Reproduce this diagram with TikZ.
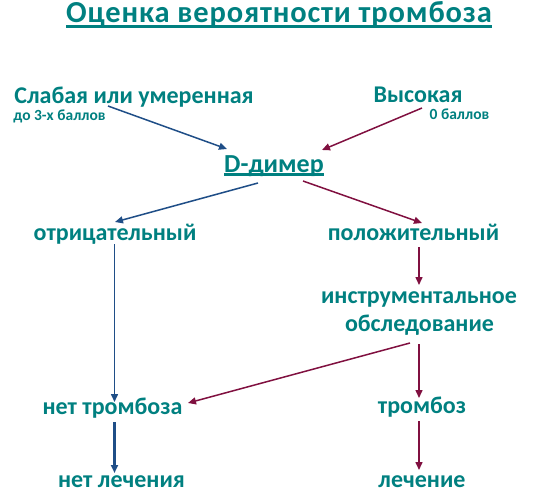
\documentclass[tikz,border=0pt]{standalone}
\usepackage{fontspec}
\setmainfont{Carlito}
\usetikzlibrary{arrows.meta,calc}
\definecolor{txt}{RGB}{0,128,128}
\definecolor{bl}{RGB}{31,78,135}
\definecolor{mr}{RGB}{128,16,64}
\tikzset{
  lbl/.style={text=txt, font=\bfseries\fontsize{24}{27}\selectfont, inner sep=0pt, anchor=base},
  sm/.style={text=txt, font=\bfseries\fontsize{15.5}{18}\selectfont, inner sep=0pt, anchor=base},
  ttl/.style={text=txt, font=\bfseries\fontsize{30.5}{33}\selectfont\addfontfeature{LetterSpace=2.8}, inner sep=0pt, anchor=base},
  dd/.style={text=txt, font=\bfseries\fontsize{26}{29}\selectfont, inner sep=0pt, anchor=base},
  ba/.style={draw=bl, line width=1.5pt, -{Triangle[length=8pt,width=7pt]}},
  ma/.style={draw=mr, line width=1.5pt, -{Triangle[length=8pt,width=7pt]}},
  ul/.style={draw=txt, line width=2.2pt}
}
\begin{document}
\begin{tikzpicture}[x=1pt,y=-1pt]
\useasboundingbox (0,0) rectangle (533,498);
\node[ttl] (title) at (279,22) {Оценка вероятности тромбоза};
\draw[ul] ([yshift=-4.5pt]title.base west) -- ([yshift=-4.5pt]title.base east);
\node[lbl] (slab) at (134,103) {Слабая или умеренная};
\node[sm] (slabs) at (59.5,120.5) {до 3-х баллов};
\node[lbl] (vys) at (418,102) {Высокая};
\node[sm] (vyss) at (459.5,119.5) {0 баллов};
\node[dd] (dd) at (274,172) {D-димер};
\draw[ul] ([yshift=-2.5pt]dd.base west) -- ([yshift=-2.5pt]dd.base east);
\node[lbl] (neg) at (115,240) {отрицательный};
\node[lbl] (pos) at (413.5,240) {положительный};
\node[lbl] (instr) at (419,303) {инструментальное};
\node[lbl] (obsl) at (419.5,331) {обследование};
\node[lbl] (nett) at (112.5,414) {нет тромбоза};
\node[lbl] (tromb) at (422,413) {тромбоз};
\node[lbl] (netl) at (121.5,487) {нет лечения};
\node[lbl] (lech) at (422,487) {лечение};
\draw[ba] ($(slab.base)+(-26,3)$) -- ($(dd.base)+(-47,-23)$);
\draw[ma] ($(vys.base)+(4,6)$) -- ($(dd.base)+(48,-22)$);
\draw[ba] ($(dd.base)+(-16,11)$) -- ($(neg.base)+(0,-18)$);
\draw[ma] ($(dd.base)+(29,9)$) -- ($(pos.base)+(8.5,-17)$);
\draw[ba] ($(neg.base)+(-0.5,4)$) -- ($(nett.base)+(2,-12)$);
\draw[ma] ($(pos.base)+(5.5,7)$) -- ($(instr.base)+(0,-18)$);
\draw[ma] ($(obsl.base)+(-9.5,12)$) -- ($(nett.base)+(75.5,-11)$);
\draw[ma] ($(obsl.base)+(-0.5,13)$) -- ($(tromb.base)+(-3,-15)$);
\draw[ba, line width=2.5pt] ($(nett.base)+(2,8)$) -- ($(netl.base)+(-7,-14)$);
\draw[ma] ($(tromb.base)+(-3,8)$) -- ($(lech.base)+(-3,-17)$);
\end{tikzpicture}
\end{document}
